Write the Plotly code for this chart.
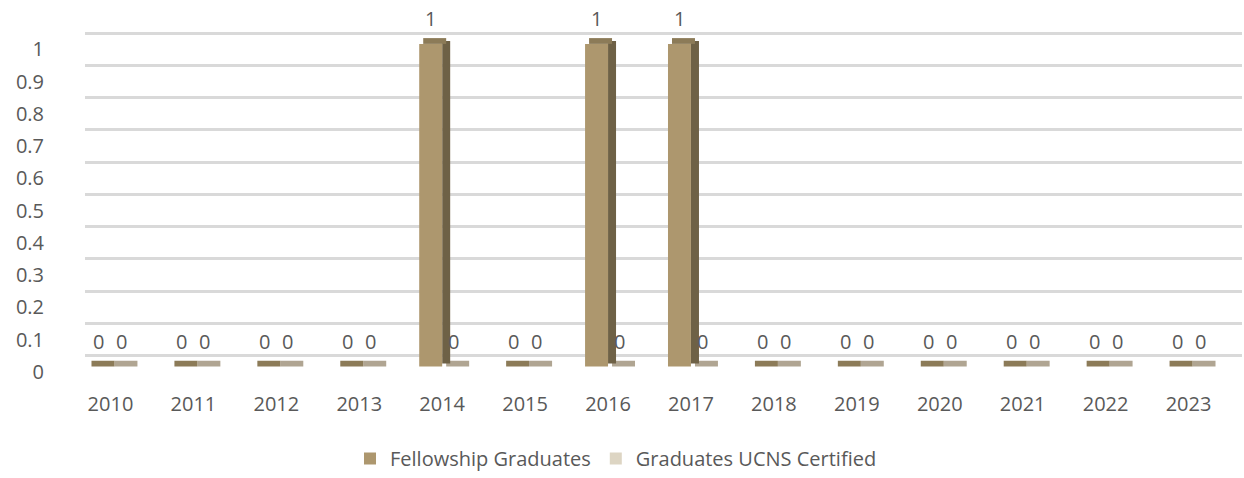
import plotly.graph_objects as go

years = [2010, 2011, 2012, 2013, 2014, 2015, 2016, 2017, 2018, 2019, 2020, 2021, 2022, 2023]
fellowship_graduates = [0, 0, 0, 0, 1, 0, 1, 1, 0, 0, 0, 0, 0, 0]
ucns_certified = [0, 0, 0, 0, 0, 0, 0, 0, 0, 0, 0, 0, 0, 0]
y_ticks = [0, 0.1, 0.2, 0.3, 0.4, 0.5, 0.6, 0.7, 0.8, 0.9, 1]
y_tick_labels = ["0", "0.1", "0.2", "0.3", "0.4", "0.5", "0.6", "0.7", "0.8", "0.9", "1"]

FONT = "Open Sans"
TEXT = "#595959"
BAR_W = 0.277  # front face width, in category units
SIDE_W = 0.0965  # fake 3D depth, horizontal
DEPTH = 0.018  # fake 3D depth, vertical

# name, values, offset, front, side, top, legend rank
series = [
    ("Graduates UCNS Certified", ucns_certified, 0.0, "#DDD5C3", "#A89E8A", "#B0A592", 2),
    ("Fellowship Graduates", fellowship_graduates, -BAR_W, "#AD976E", "#6E6146", "#8C7B58", 1),
]

W, H = 1244, 478
K = 1.012  # small vertical calibration seen in the rendered page


def fx(px):
    return px / W


def fy(py):
    return 1 - py * K / H


fig = go.Figure()

# back wall gridlines live on their own subplot, shifted up/right
fig.add_trace(
    go.Scatter(
        x=[0.5], y=[0.5], mode="markers", marker=dict(opacity=0),
        xaxis="x", yaxis="y", showlegend=False, hoverinfo="skip",
    )
)
# carrier for the value-axis tick labels (sit a little below the bar fronts)
fig.add_trace(
    go.Scatter(
        x=[2010], y=[0.5], mode="markers", marker=dict(opacity=0),
        xaxis="x2", yaxis="y3", showlegend=False, hoverinfo="skip",
    )
)

for name, vals, off, front, side, top, rank in series:
    fig.add_trace(
        go.Bar(
            x=years, y=vals, base=DEPTH / 2, offset=off + BAR_W, width=SIDE_W,
            marker=dict(color=side, line=dict(width=0)),
            xaxis="x2", yaxis="y2", showlegend=False, hoverinfo="skip",
        )
    )
    fig.add_trace(
        go.Bar(
            x=years, y=[DEPTH] * len(vals), base=vals, offset=off + SIDE_W / 2, width=BAR_W,
            marker=dict(color=top, line=dict(width=0)),
            xaxis="x2", yaxis="y2", showlegend=False, hoverinfo="skip",
        )
    )
    fig.add_trace(
        go.Bar(
            x=years, y=vals, offset=off, width=BAR_W, name=name, legendrank=rank,
            marker=dict(color=front, line=dict(width=0)),
            xaxis="x2", yaxis="y2",
        )
    )
    for yr, v in zip(years, vals):
        fig.add_annotation(
            x=yr + off + BAR_W / 2, y=v, xref="x2", yref="y2", text=str(v),
            showarrow=False, yshift=26, yanchor="middle", height=20,
            font=dict(family=FONT, size=20, color=TEXT),
        )

top_px, bottom_px = 0, 388
unit = 327  # px per 1.0 on the value axis
grid_zero, bar_zero, label_zero = 360.5, 371.5, 377


def rng(zero):
    return [(zero - bottom_px) / unit, (zero - top_px) / unit]


fig.update_layout(
    width=W,
    height=H,
    margin=dict(l=0, r=0, t=0, b=0),
    paper_bgcolor="white",
    plot_bgcolor="rgba(0,0,0,0)",
    font=dict(family=FONT, size=20, color=TEXT),
    barmode="overlay",
    xaxis=dict(
        domain=[fx(85), fx(1242)], anchor="y", range=[0, 1],
        showgrid=False, zeroline=False, showticklabels=False, showline=False,
    ),
    yaxis=dict(
        domain=[fy(bottom_px), fy(top_px)], anchor="x", range=rng(grid_zero),
        tickmode="array", tickvals=y_ticks, showticklabels=False, showgrid=True,
        gridcolor="#D9D9D9", gridwidth=2.5, zeroline=False, showline=False,
    ),
    xaxis2=dict(
        domain=[fx(69), fx(1230)], anchor="y2", range=[2009.5, 2023.5],
        tickvals=years, showgrid=False, zeroline=False, showline=False,
        tickfont=dict(family=FONT, size=20, color=TEXT), ticklabelstandoff=7,
    ),
    yaxis2=dict(
        domain=[fy(bottom_px), fy(top_px)], anchor="x2", range=rng(bar_zero),
        showticklabels=False, showgrid=False, zeroline=False, showline=False,
    ),
    yaxis3=dict(
        overlaying="y2", anchor="x2", side="left", range=rng(label_zero),
        tickvals=y_ticks, ticktext=y_tick_labels, showgrid=False,
        zeroline=False, showline=False, ticklabelstandoff=24,
        tickfont=dict(family=FONT, size=20, color=TEXT),
    ),
    legend=dict(
        orientation="h", x=fx(350), xanchor="left", y=fy(465), yanchor="middle",
        font=dict(family=FONT, size=20, color=TEXT), traceorder="normal",
    ),
    showlegend=True,
)

# drop the default page margin so the figure sits at the window's corner
fig.write_html(
    "out.html",
    config={"displayModeBar": False},
    post_script="document.body.style.margin = '0';",
)
